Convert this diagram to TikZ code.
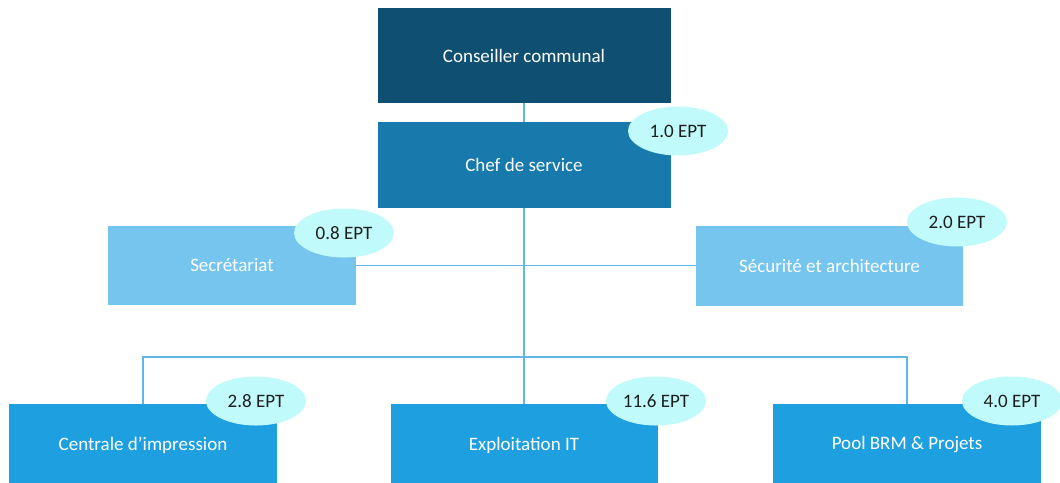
\documentclass[tikz,border=0pt]{standalone}
\usepackage{fontspec}
\setmainfont{Carlito}
\usetikzlibrary{shapes.geometric}
\definecolor{cdark}{RGB}{15,79,113}
\definecolor{cmid}{RGB}{23,121,172}
\definecolor{clight}{RGB}{117,197,238}
\definecolor{cbot}{RGB}{30,160,224}
\definecolor{cline}{RGB}{96,182,230}
\definecolor{cell}{RGB}{192,250,250}
\definecolor{ctext}{RGB}{30,30,30}
\tikzset{
  box/.style={rectangle, inner sep=0pt, text=white, font=\fontsize{19}{23}\selectfont},
  ept/.style={ellipse, fill=cell, inner sep=0pt, minimum width=100pt, minimum height=49pt, text=ctext, font=\fontsize{19}{23}\selectfont},
  conn/.style={draw=cline, line width=1.4pt}
}
\begin{document}
\begin{tikzpicture}[x=1pt,y=-1pt]
\useasboundingbox (0,0) rectangle (1060,482);
% boxes
\node[box, fill=cdark, minimum width=293pt, minimum height=95pt] (cc) at (524,55.5) {Conseiller communal};
\node[box, fill=cmid, minimum width=293pt, minimum height=86pt] (cs) at (524,165) {Chef de service};
\node[box, fill=clight, minimum width=248pt, minimum height=79pt] (sec) at (232,265.5) {Secrétariat};
\node[box, fill=clight, minimum width=267pt, minimum height=80pt] (sa) at (829.5,265.5) {Sécurité et architecture};
\node[box, fill=cbot, minimum width=268pt, minimum height=82pt] (ci) at (143,445) {Centrale d'impression};
\node[box, fill=cbot, minimum width=267pt, minimum height=82pt] (ex) at (524,445) {Exploitation IT};
\node[box, fill=cbot, minimum width=268pt, minimum height=82pt] (pb) at (907,445) {Pool BRM \& Projets};
% connectors
\coordinate (jb) at (524,357);
\draw[conn] (cc.south) -- (cs.north);
\draw[conn] (cs.south) -- (jb) -- (ex.north);
\draw[conn] (sec.east) -- (sa.west);
\draw[conn] (ci.north) |- (jb) -| (pb.north);
% EPT labels
\node[ept] (e1) at (678,131) {1.0 EPT};
\node[ept] (e2) at (344,233) {0.8 EPT};
\node[ept] (e3) at (957,222) {2.0 EPT};
\node[ept] (e4) at (256,401) {2.8 EPT};
\node[ept] (e5) at (656,401) {11.6 EPT};
\node[ept] (e6) at (1012,401) {4.0 EPT};
\end{tikzpicture}
\end{document}
